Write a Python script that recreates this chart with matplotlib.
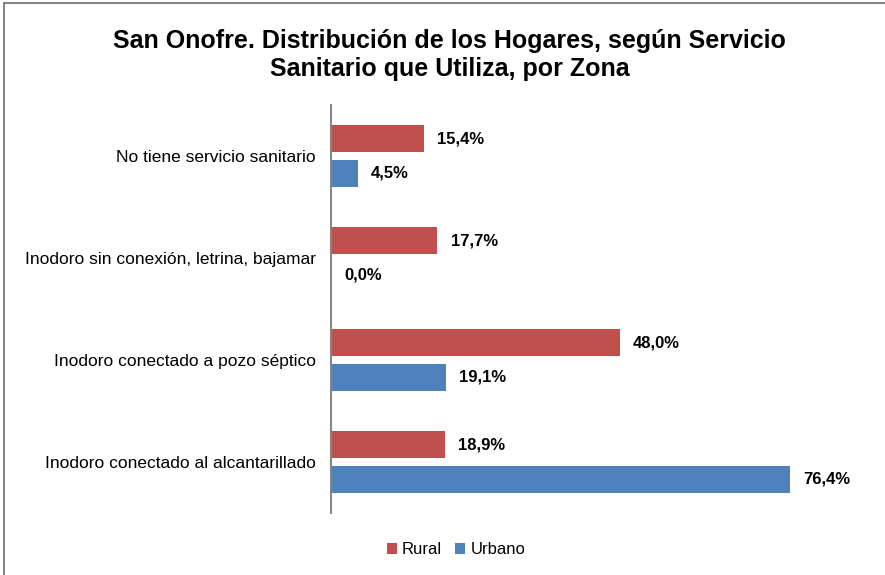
import matplotlib.pyplot as plt
import numpy as np
from matplotlib.patches import Rectangle

plt.rcParams['font.family'] = ['Liberation Sans', 'DejaVu Sans']

categories = ["No tiene servicio sanitario",
              "Inodoro sin conexión, letrina, bajamar",
              "Inodoro conectado a pozo séptico",
              "Inodoro conectado al alcantarillado"]
rural = [15.4, 17.7, 48.0, 18.9]
urbano = [4.5, 0.0, 19.1, 76.4]

RED = '#C0504D'
BLUE = '#4F81BD'

fig = plt.figure(figsize=(8.85, 5.75), dpi=100)
ax = fig.add_axes([331 / 885, 1 - 513 / 575, 541 / 885, 408 / 575])

y = np.arange(len(categories))
h = 0.26
off = 0.17
ax.barh(y - off, rural, height=h, color=RED, label='Rural')
ax.barh(y + off, urbano, height=h, color=BLUE, label='Urbano')

for yi, r, u in zip(y, rural, urbano):
    for v, yy in ((r, yi - off), (u, yi + off)):
        ax.annotate(f"{v:.1f}%".replace('.', ','), (v, yy), xytext=(9.5, 0),
                    textcoords='offset points', va='center', ha='left',
                    fontsize=12, fontweight='bold')

ax.set_xlim(0, 90)
ax.set_ylim(len(categories) - 0.5, -0.5)
ax.set_yticks(y)
ax.set_yticklabels(categories, fontsize=12.5)
ax.tick_params(axis='y', length=0, pad=11)
ax.set_xticks([])
for s in ('top', 'right', 'bottom'):
    ax.spines[s].set_visible(False)
ax.spines['left'].set_color('#868686')
ax.spines['left'].set_linewidth(1.5)

fig.text(0.508, 0.904, "San Onofre. Distribución de los Hogares, según Servicio\nSanitario que Utiliza, por Zona",
         ha='center', va='center', fontsize=18, fontweight='bold', linespacing=1.22)

fig.legend(loc='center', bbox_to_anchor=(456 / 885, 1 - 550 / 575), ncol=2,
           frameon=False, fontsize=12, handlelength=0.6, handleheight=0.6,
           handletextpad=0.3, columnspacing=0.8)

fig.add_artist(Rectangle((4 / 885, -0.01), 1.0, 1 - 3 / 575 + 0.01,
                         transform=fig.transFigure, fill=False,
                         edgecolor='#868686', linewidth=1.5))

fig.savefig('out.png', dpi=100)
